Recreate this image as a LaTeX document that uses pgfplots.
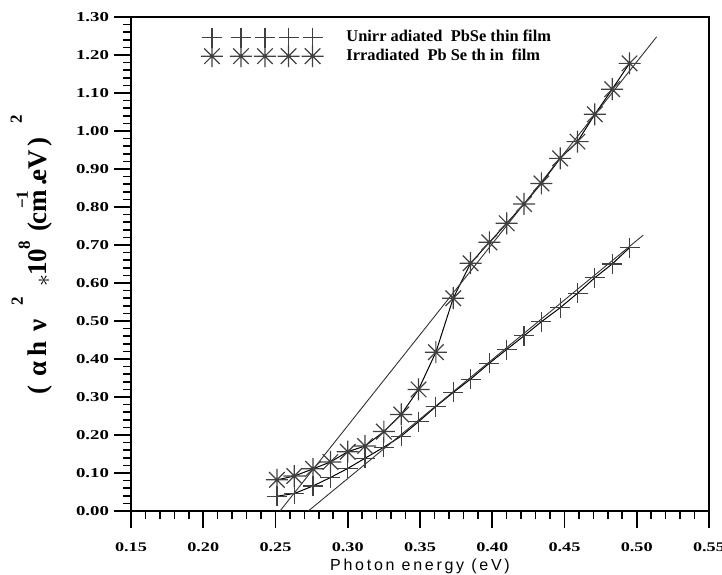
\documentclass[border=0pt]{standalone}
\usepackage{fontspec}
\setmainfont{Liberation Serif}
\newfontfamily\arialf[LetterSpace=17]{Liberation Sans}
\newfontfamily\tickx[FakeStretch=1.38]{Liberation Serif}
\newfontfamily\ticky[FakeStretch=1.38]{Liberation Serif}
\usepackage{pgfplots}
\usepackage{pgfplotstable}
\pgfplotsset{compat=1.18}

\pgfdeclareplotmark{ast8}{%
  \pgfpathmoveto{\pgfqpoint{-\pgfplotmarksize}{0pt}}\pgfpathlineto{\pgfqpoint{\pgfplotmarksize}{0pt}}%
  \pgfpathmoveto{\pgfqpoint{0pt}{-\pgfplotmarksize}}\pgfpathlineto{\pgfqpoint{0pt}{\pgfplotmarksize}}%
  \pgfpathmoveto{\pgfqpoint{-0.707\pgfplotmarksize}{-0.707\pgfplotmarksize}}\pgfpathlineto{\pgfqpoint{0.707\pgfplotmarksize}{0.707\pgfplotmarksize}}%
  \pgfpathmoveto{\pgfqpoint{-0.707\pgfplotmarksize}{0.707\pgfplotmarksize}}\pgfpathlineto{\pgfqpoint{0.707\pgfplotmarksize}{-0.707\pgfplotmarksize}}%
  \pgfusepathqstroke}

\newcommand{\supr}[2]{\raisebox{#1}{\fontsize{8.5}{9}\selectfont #2}}

\pgfplotstableread{
x      un     ir
0.251  0.039  0.082
0.263  0.046  0.092
0.276  0.066  0.111
0.288  0.088  0.129
0.300  0.112  0.156
0.312  0.139  0.171
0.325  0.168  0.209
0.337  0.197  0.254
0.349  0.235  0.320
0.361  0.275  0.418
0.373  0.312  0.560
0.385  0.347  0.652
0.398  0.389  0.707
0.410  0.425  0.757
0.422  0.461  0.808
0.434  0.498  0.862
0.447  0.535  0.928
0.459  0.573  0.972
0.471  0.614  1.044
0.483  0.650  1.110
0.495  0.693  1.178
}\datatab

\begin{document}
\begin{tikzpicture}
\begin{axis}[
  name=ax,
  scale only axis,
  width=289pt, height=247pt,
  xmin=0.15, xmax=0.55,
  ymin=0, ymax=1.3,
  xtick={0.15,0.20,0.25,0.30,0.35,0.40,0.45,0.50,0.55},
  ytick={0,0.1,0.2,0.3,0.4,0.5,0.6,0.7,0.8,0.9,1.0,1.1,1.2,1.3},
  minor x tick num=4,
  minor y tick num=4,
  tick align=outside,
  xtick pos=left, ytick pos=left,
  major tick length=8.5pt,
  minor tick length=4pt,
  every tick/.style={black, line width=0.8pt},
  axis line style={line width=0.8pt},
  /pgf/number format/assume math mode=true,
  /pgf/number format/fixed,
  /pgf/number format/fixed zerofill,
  /pgf/number format/precision=2,
  xticklabel style={font=\tickx\fontsize{6.6}{8}\selectfont\bfseries, yshift=-4pt},
  yticklabel style={font=\ticky\fontsize{6.8}{8}\selectfont\bfseries, xshift=1pt},
  xlabel={\arialf\fontsize{8}{9.6}\selectfont Photon energy (eV)},
  xlabel style={at={(axis description cs:0.5,0)}, anchor=center, yshift=-27.5pt},
  ylabel={\bfseries\fontsize{13.5}{14}\selectfont
    \makebox[7.5pt]{(}\hspace{3pt}\makebox[7pt]{α}\hspace{3pt}\makebox[7pt]{h}\hspace{5pt}\makebox[6.5pt]{ν}\hspace{6pt}%
    \supr{12pt}{\makebox[5.5pt]{2}}\hspace{3.5pt}\makebox[8.5pt]{\raisebox{-1.5pt}{\normalfont\fontsize{13}{13}\selectfont$\ast$}}\makebox[10pt]{10}%
    \supr{8.5pt}{\makebox[6.5pt]{8}}\hspace{3.5pt}\makebox[5.5pt]{(}\makebox[13.5pt]{cm}\hspace{-8.5pt}%
    \supr{9.5pt}{\makebox[11.5pt]{−1}}\hspace{2pt}\makebox[1.5pt]{.}\hspace{1.5pt}\makebox[12pt]{eV}\hspace{2.5pt}\makebox[7.5pt]{)}\hspace{4pt}%
    \supr{12.5pt}{\makebox[6.5pt]{2}}},
  ylabel style={at={(axis description cs:-0.172,0.518)}, anchor=center},
  legend style={draw=none, fill=none, at={(axis description cs:0.11,0.99)}, anchor=north west,
    font=\fontsize{8.2}{9}\selectfont\bfseries, row sep=-2pt},
  legend cell align=left,
  legend image code/.code={\draw[#1, only marks] plot coordinates {(0pt,0pt)(14.5pt,0pt)(26.5pt,0pt)(38.3pt,0pt)(50.3pt,0pt)};\path (65pt,0pt);},
]
\addplot[black, line width=0.5pt, mark=+, mark size=5pt, mark options={black!75, line width=0.6pt}] table[x=x, y=un] {\datatab};
\addlegendentry{Unirr adiated\ \ PbSe thin film}
\addplot[black, line width=0.5pt, mark=ast8, mark size=5.5pt, mark options={black!75, line width=0.6pt}] table[x=x, y=ir] {\datatab};
\addlegendentry{Irradiated\ \ Pb Se th in\ \ film}
\addplot[black!80, line width=0.45pt, forget plot] coordinates {(0.2531,0) (0.5138,1.248)};
\addplot[black!80, line width=0.45pt, forget plot] coordinates {(0.2727,0) (0.5045,0.726)};
\end{axis}
\pgfresetboundingbox
\useasboundingbox ([xshift=-65.5pt,yshift=-31.5pt]ax.south west) rectangle ([xshift=6.5pt,yshift=8.5pt]ax.north east);
\end{tikzpicture}
\end{document}
